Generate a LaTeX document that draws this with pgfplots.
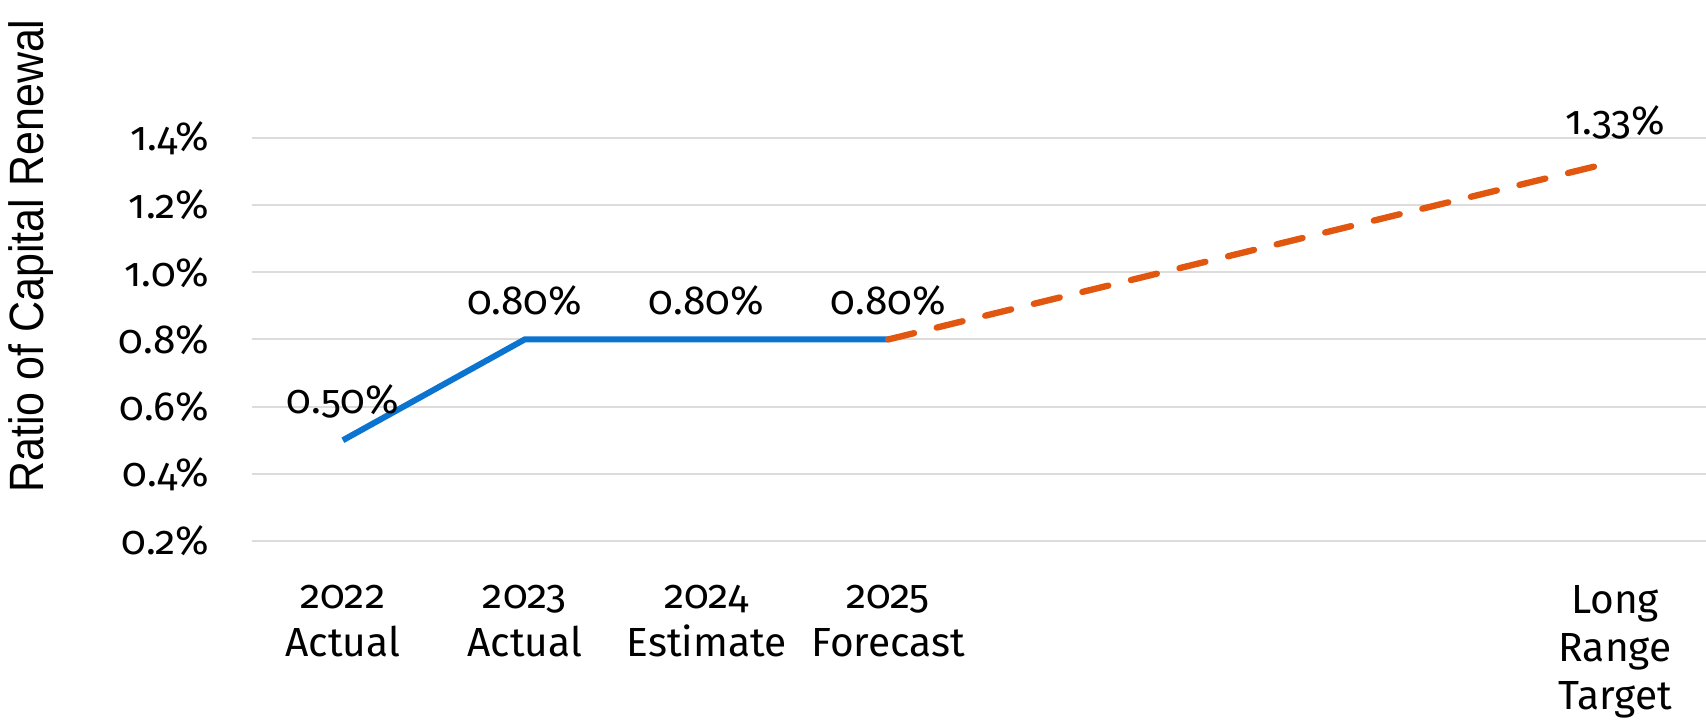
\documentclass[border=0pt]{standalone}
\usepackage{pgfplots}
\pgfplotsset{compat=1.18}
\usepackage{fontspec}
\setmainfont{Fira Sans}[Numbers=OldStyle]
\newfontfamily\titlefont{Liberation Sans}
\definecolor{lineblue}{HTML}{0A74D0}
\definecolor{lineorange}{HTML}{E2570F}
\definecolor{gridgray}{HTML}{DCDCDC}
\begin{document}
\begin{tikzpicture}
\clip (-75.6pt,-54pt) rectangle (436.2pt,162.3pt);
\begin{axis}[
  at={(0,0)}, anchor=south west,
  scale only axis,
  width=436.2pt, height=120.9pt,
  xmin=-0.5, xmax=7.5,
  ymin=0.2, ymax=1.4,
  clip=false,
  axis line style={draw=none},
  major tick length=0pt,
  xtick={0,1,2,3,7},
  xticklabels={{2022\\Actual},{2023\\Actual},{2024\\Estimate},{2025\\Forecast},{Long\\Range\\Target}},
  xticklabel style={anchor=north, inner sep=0pt, yshift=-13pt, align=center, font=\fontsize{12.2}{14.4}\selectfont},
  ytick={0.2,0.4,0.6,0.8,1.0,1.2,1.4},
  yticklabels={0.2\%,0.4\%,0.6\%,0.8\%,1.0\%,1.2\%,1.4\%},
  yticklabel style={anchor=east, inner sep=0pt, xshift=-12.6pt, font=\fontsize{12.2}{14.4}\selectfont},
  ymajorgrids,
  grid style={gridgray, line width=0.6pt},
  nodes near coords={\pgfplotspointmeta},
  point meta=explicit symbolic,
  every node near coord/.style={anchor=center, yshift=11.7pt, font=\fontsize{12.2}{14.4}\selectfont, text=black},
]
\addplot[lineblue, line width=1.8pt, mark=none] coordinates {
  (0,0.50) [0.50\%]
  (1,0.80) [0.80\%]
  (2,0.80) [0.80\%]
  (3,0.80) [0.80\%]
};
\addplot[lineorange, line width=1.9pt, mark=none, dash pattern=on 8pt off 7pt, line cap=round] coordinates {
  (3,0.80) []
  (7,1.33) [1.33\%]
};
\end{axis}
\node[rotate=90, font=\titlefont\fontsize{12.9}{15}\selectfont] at (-66.3pt,85.5pt) {\scalebox{1}[1.12]{Ratio of Capital Renewal}};
\end{tikzpicture}
\end{document}
